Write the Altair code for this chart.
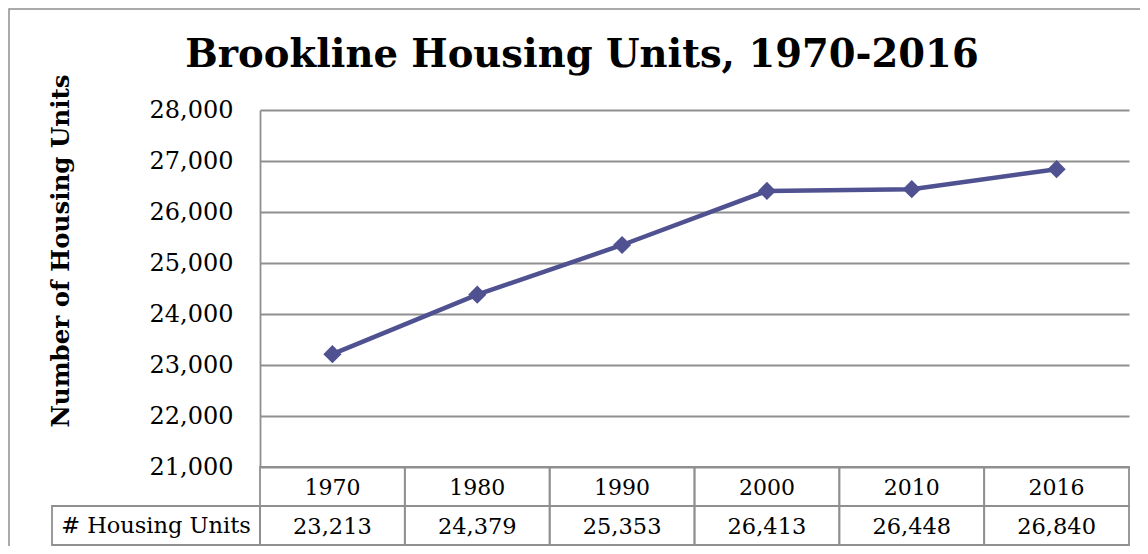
import altair as alt
import pandas as pd

# ---- data ----
years = ["1970", "1980", "1990", "2000", "2010", "2016"]
units = [23213, 24379, 25353, 26413, 26448, 26840]
y_ticks = [21000, 22000, 23000, 24000, 25000, 26000, 27000, 28000]
title_text = "Brookline Housing Units, 1970-2016"
y_title = "Number of Housing Units"
row_label = "# Housing Units"

df = pd.DataFrame({"year": years, "units": units})
one = pd.DataFrame({"title": [title_text], "ytitle": [y_title], "label": [row_label]})

W, H = 869, 357
FONT = "DejaVu Serif"
LINE = "#4F5190"
GRID = "#8f8f8f"

xs = alt.X("year:N", sort=years,
           scale=alt.Scale(type="band", paddingInner=0, paddingOuter=0),
           axis=None)
ys = alt.Y("units:Q",
           scale=alt.Scale(domain=[21000, 28000], nice=False, zero=False),
           axis=alt.Axis(values=y_ticks, format=",.0f", title=None, ticks=False,
                         labelPadding=27, labelFont=FONT, labelFontSize=24,
                         labelColor="black", grid=True, gridColor=GRID,
                         gridWidth=1.8, domainColor=GRID, domainWidth=1.8))

base = alt.Chart(df)

border = alt.Chart(one).mark_rect(fillOpacity=0, stroke=GRID, strokeWidth=1.5).encode(
    x=alt.value(-251), x2=alt.value(895), y=alt.value(-101), y2=alt.value(470)
)

line = base.mark_line(color=LINE, strokeWidth=4.5).encode(x=xs, y=ys)

points = base.mark_point(shape="diamond", filled=True, size=330, color=LINE,
                         opacity=1).encode(x=xs, y=ys)

head_cells = base.mark_rect(fillOpacity=0, stroke=GRID, strokeWidth=1.8).encode(
    x=xs, y=alt.value(357), y2=alt.value(396)
)
val_cells = base.mark_rect(fillOpacity=0, stroke=GRID, strokeWidth=1.8).encode(
    x=xs, y=alt.value(396), y2=alt.value(435)
)
head_text = base.mark_text(font=FONT, fontSize=22, baseline="middle", color="black").encode(
    x=xs, y=alt.value(378), text="year:N"
)
val_text = base.mark_text(font=FONT, fontSize=22.5, baseline="middle", color="black").encode(
    x=xs, y=alt.value(417), text=alt.Text("units:Q", format=",")
)

label_cell = alt.Chart(one).mark_rect(fillOpacity=0, stroke=GRID, strokeWidth=1.8).encode(
    x=alt.value(-208), x2=alt.value(0), y=alt.value(396), y2=alt.value(435)
)
label_text = alt.Chart(one).mark_text(font=FONT, fontSize=22.5, baseline="middle",
                                      align="center", color="black").encode(
    x=alt.value(-104), y=alt.value(416), text="label:N"
)

title = alt.Chart(one).mark_text(font=FONT, fontSize=38.5, fontWeight="bold",
                                 align="center", baseline="alphabetic",
                                 color="black").encode(
    x=alt.value(322), y=alt.value(-43), text="title:N"
)

ytitle = alt.Chart(one).mark_text(font=FONT, fontSize=24.5, fontWeight="bold",
                                  align="center", baseline="middle", angle=270,
                                  color="black").encode(
    x=alt.value(-198), y=alt.value(141), text="ytitle:N"
)

chart = alt.layer(
    border, head_cells, val_cells, label_cell, line, points,
    head_text, val_text, label_text, title, ytitle
).properties(
    width=W, height=H,
    autosize=alt.AutoSizeParams(type="none"),
    padding={"left": 252, "top": 102, "right": 11, "bottom": 79},
    background="white",
).configure_view(stroke=None)

chart.save("out.html", embed_options={"renderer": "svg", "actions": False})
